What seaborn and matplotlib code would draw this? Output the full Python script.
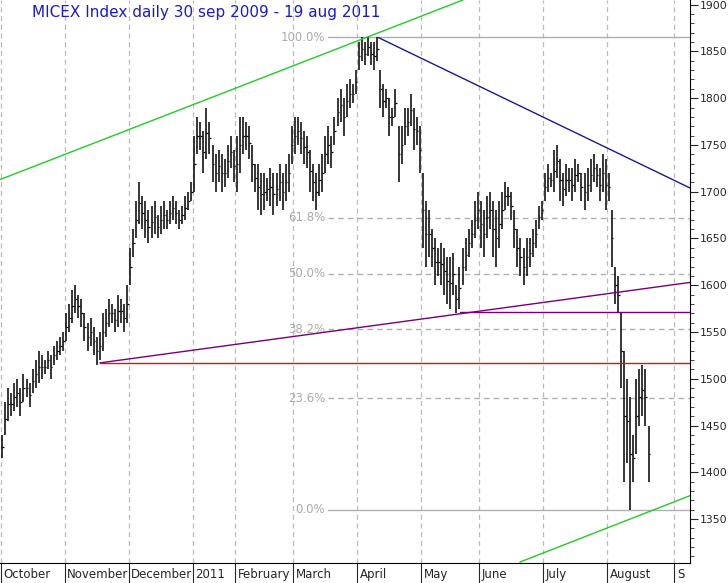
import matplotlib
matplotlib.use("Agg")
import matplotlib.pyplot as plt
import matplotlib.transforms as mtrans
import seaborn as sns
import pandas as pd
import numpy as np

months = ["October", "November", "December", "2011", "February", "March",
          "April", "May", "June", "July", "August", "S"]

oct_ = [(1415,1440),(1440,1475),(1455,1490),(1460,1485),(1465,1495),(1470,1500),(1460,1490),(1475,1505),(1480,1500),(1470,1495),(1485,1510),(1490,1520),(1495,1530),(1500,1525),(1505,1520),(1510,1530),(1500,1525),(1515,1535),(1520,1540),(1525,1545),(1530,1550)]
nov_ = [(1540,1570),(1550,1580),(1560,1595),(1570,1600),(1565,1590),(1555,1585),(1540,1570),(1530,1560),(1535,1565),(1525,1555),(1515,1545),(1520,1550),(1530,1570),(1545,1575),(1555,1585),(1560,1580),(1550,1575),(1555,1590),(1560,1585),(1550,1580),(1560,1600)]
dec_ = [(1600,1640),(1630,1660),(1650,1690),(1665,1710),(1660,1695),(1650,1690),(1645,1680),(1650,1685),(1655,1690),(1650,1675),(1655,1685),(1660,1690),(1660,1680),(1665,1690),(1670,1695),(1665,1690),(1660,1680),(1665,1685),(1670,1695),(1680,1700),(1690,1710)]
jan_ = [(1700,1760),(1740,1780),(1745,1775),(1720,1765),(1735,1790),(1740,1775),(1710,1750),(1700,1740),(1710,1745),(1700,1740),(1705,1735),(1715,1750),(1725,1760),(1710,1745)]
feb_ = [(1700,1760),(1720,1780),(1740,1780),(1745,1775),(1735,1770),(1710,1750),(1700,1730),(1680,1730),(1675,1720),(1680,1720),(1690,1715),(1685,1725),(1675,1720),(1685,1720),(1690,1730),(1680,1720),(1690,1730),(1700,1740),(1730,1770)]
mar_ = [(1740,1780),(1750,1780),(1740,1775),(1730,1765),(1725,1760),(1700,1745),(1690,1730),(1680,1720),(1695,1730),(1700,1740),(1720,1760),(1730,1770),(1725,1760),(1750,1780),(1770,1800),(1775,1810),(1760,1800),(1780,1815),(1790,1820),(1795,1815),(1805,1830)]
apr_ = [(1830,1860),(1840,1865),(1835,1860),(1845,1865),(1835,1860),(1830,1860),(1840,1865),(1790,1830),(1780,1815),(1790,1810),(1760,1800),(1770,1790),(1780,1810),(1710,1770),(1730,1770),(1750,1790),(1760,1790),(1770,1805),(1745,1790),(1750,1780),(1720,1770)]
may_ = [(1640,1720),(1620,1690),(1630,1680),(1620,1660),(1600,1650),(1610,1640),(1600,1645),(1590,1640),(1580,1630),(1575,1630),(1590,1635),(1570,1600),(1575,1620),(1600,1640),(1615,1650),(1630,1660),(1640,1670),(1650,1690),(1660,1700)]
jun_ = [(1640,1690),(1630,1680),(1650,1695),(1660,1700),(1630,1690),(1620,1680),(1640,1690),(1660,1700),(1680,1710),(1685,1705),(1670,1700),(1640,1680),(1620,1660),(1610,1650),(1600,1640),(1610,1650),(1620,1650),(1630,1660),(1640,1670),(1660,1685),(1670,1690)]
jul_ = [(1690,1720),(1700,1730),(1705,1720),(1700,1745),(1715,1750),(1690,1735),(1685,1720),(1695,1730),(1700,1725),(1690,1725),(1700,1735),(1710,1730),(1690,1720),(1680,1720),(1690,1725),(1700,1735),(1710,1740),(1705,1730),(1690,1725),(1700,1740),(1680,1735)]
aug_ = [(1690,1720),(1620,1680),(1580,1620),(1570,1610),(1490,1570),(1390,1530),(1410,1500),(1360,1480),(1390,1440),(1420,1500),(1450,1510),(1460,1515),(1450,1510),(1390,1450)]
month_data = [oct_, nov_, dec_, jan_, feb_, mar_, apr_, may_, jun_, jul_, aug_]

fib_levels = [0.0, 23.6, 38.2, 50.0, 61.8, 100.0]
fib_low, fib_high = 1360, 1865

green_up = (-0.7, 1713, 151.1, 1905)
green_lo = (169.8, 1304, 225.6, 1375)
blue_line = (123.3, 1865, 225.6, 1704)
purple_up = (32.1, 1517, 225.6, 1603)
purple_h = (150.2, 1571, 225.6, 1571)
red_h = (32.1, 1517, 225.6, 1517)

rows = []
starts = []
d = 0
for m in month_data:
    starts.append(d)
    for lo, hi in m:
        rows.append((d, lo, hi))
        d += 1
starts.append(221)
df = pd.DataFrame(rows, columns=["day", "low", "high"])

sns.set_style("white")
fig = plt.figure(figsize=(7.28, 5.83), dpi=100)
ax = fig.add_axes([0, 20/583, 690/728, 563/583])
ax.set_xlim(-0.7, 225.6)
ax.set_ylim(1303, 1905)

for s in starts:
    ax.axvline(s - 0.5, color="#bbbbbb", ls=(0, (4, 3)), lw=0.9, zorder=0)

ax.vlines(df["day"], df["low"], df["high"], color="black", lw=1.1, zorder=3)
mid = (df["low"] + df["high"]) / 2
ax.hlines(mid, df["day"], df["day"] + 0.5, color="black", lw=0.9, zorder=3)

for f in fib_levels:
    v = fib_low + (fib_high - fib_low) * f / 100
    solid = f in (0.0, 100.0)
    ax.plot([107, 225.6], [v, v], color="#b0b0b0", lw=1,
            ls="-" if solid else (0, (4, 3)), zorder=1)
    ax.text(106, v, f"{f:.1f}%", color="#aaaaaa", fontsize=8.5,
            ha="right", va="center", zorder=2)

for (x0, y0, x1, y1), c in [(green_up, "#22cc22"), (green_lo, "#22cc22"),
                            (blue_line, "#1a1a99"), (purple_up, "#770077"),
                            (purple_h, "#770077"), (red_h, "#dd1111")]:
    sns.lineplot(x=[x0, x1], y=[y0, y1], color=c, lw=1, ax=ax, zorder=4)

ax.yaxis.tick_right()
ax.set_yticks(range(1350, 1901, 50))
ax.set_yticks(range(1310, 1905, 10), minor=True)
ax.tick_params(axis="y", which="major", length=6, labelsize=7.8, pad=1, direction="out", right=True)
ax.tick_params(axis="y", which="minor", length=3, direction="out", right=True)
ax.set_xticks([s - 0.5 for s in starts])
ax.set_xticklabels([])
ax.tick_params(axis="x", length=20, width=0.8, direction="out", bottom=True)
trans = mtrans.blended_transform_factory(ax.transData, ax.transAxes)
for s, name in zip(starts, months):
    ax.text(s + 0.3, -0.008, name, transform=trans, fontsize=8.5, va="top", ha="left")
for sp in ["top", "left"]:
    ax.spines[sp].set_visible(False)
for sp in ["right", "bottom"]:
    ax.spines[sp].set_color("black")
    ax.spines[sp].set_linewidth(0.8)

fig.text(32/728, 1 - 12/583, "MICEX Index daily 30 sep 2009 - 19 aug 2011",
         color="#1a1acc", fontsize=11, va="center", ha="left")
fig.savefig("out.png", dpi=100, facecolor="white")
